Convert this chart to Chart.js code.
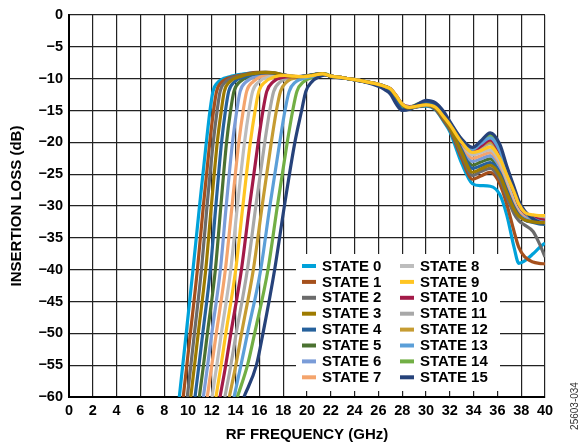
<!DOCTYPE html>
<html><head><meta charset="utf-8">
<script src="https://cdn.jsdelivr.net/npm/chart.js@4/dist/chart.umd.min.js"></script>
<style>html,body{margin:0;padding:0;background:#fff}</style>
</head><body>
<canvas id="c" width="583" height="446"></canvas>
<script>
// ---- data ----
const stateNames = ['STATE 0','STATE 1','STATE 2','STATE 3','STATE 4','STATE 5','STATE 6','STATE 7',
  'STATE 8','STATE 9','STATE 10','STATE 11','STATE 12','STATE 13','STATE 14','STATE 15'];
const stateColors = ['#00A2DA','#A5501C','#6B6B6B','#9E7B00','#26619C','#4B7231','#7A9CD8','#F4A46C',
  '#BDBDBD','#FFC522','#A31A48','#A8A8A8','#C69C32','#5B9FD8','#72AF45','#26427A'];

// rising skirt: loss levels (dB) and frequency (GHz) where each state crosses them
const riseLoss = [-60, -55, -50, -40, -30, -20, -15, -12, -10.5];
const riseFreq = [
  [9.27, 9.56, 9.85, 10.42, 10.97, 11.54, 11.85, 12.1, 12.55],
  [9.6, 9.9, 10.2, 10.79, 11.29, 11.83, 12.15, 12.4, 12.85],
  [9.94, 10.24, 10.54, 11.13, 11.6, 12.12, 12.45, 12.7, 13.15],
  [10.23, 10.55, 10.86, 11.49, 11.96, 12.46, 12.8, 13.05, 13.5],
  [10.59, 10.92, 11.24, 11.88, 12.34, 12.82, 13.15, 13.42, 13.9],
  [10.95, 11.3, 11.63, 12.3, 12.76, 13.24, 13.58, 13.86, 14.35],
  [11.29, 11.65, 12.0, 12.72, 13.21, 13.74, 14.1, 14.38, 14.88],
  [11.62, 12.0, 12.38, 13.14, 13.7, 14.27, 14.64, 14.93, 15.45],
  [12.02, 12.42, 12.8, 13.59, 14.15, 14.75, 15.13, 15.43, 15.95],
  [12.35, 12.78, 13.18, 14.01, 14.61, 15.24, 15.64, 15.95, 16.5],
  [12.69, 13.17, 13.6, 14.49, 15.17, 15.9, 16.3, 16.62, 17.15],
  [13.1, 13.6, 14.05, 14.99, 15.7, 16.45, 16.87, 17.2, 17.75],
  [13.47, 14.02, 14.5, 15.49, 16.23, 17.0, 17.43, 17.77, 18.3],
  [13.87, 14.45, 15.0, 16.11, 16.88, 17.71, 18.15, 18.5, 19.05],
  [14.15, 15.0, 15.6, 16.72, 17.51, 18.34, 18.8, 19.15, 19.7],
  [14.7, 15.75, 16.3, 17.28, 18.1, 18.98, 19.55, 19.9, 20.4]
];

// passband top, per state
const topFreq = [
  [13.5, 14.5, 15.5, 16.5, 17.5, 18.5, 19.5, 20.5, 21.3],
  [13.8, 14.8, 15.8, 16.8, 17.8, 18.8, 19.8, 20.6, 21.3],
  [14.1, 15.1, 16.0, 17.0, 18.0, 19.0, 20.0, 21.3],
  [14.5, 15.5, 16.5, 17.3, 18.2, 19.0, 20.0, 21.3],
  [14.9, 15.8, 16.7, 17.5, 18.3, 19.2, 20.1, 21.3],
  [15.3, 16.2, 17.0, 17.8, 18.6, 19.4, 20.3, 21.3],
  [15.8, 16.7, 17.5, 18.3, 19.2, 20.2, 21.3],
  [16.3, 17.2, 18.0, 18.8, 19.6, 20.4, 21.3],
  [16.8, 17.6, 18.4, 19.2, 20.2, 21.3],
  [17.3, 18.1, 18.9, 19.7, 20.5, 21.3],
  [17.9, 18.7, 19.5, 20.4, 21.3],
  [18.5, 19.3, 20.2, 21.3],
  [19.0, 19.8, 20.6, 21.3],
  [19.8, 20.6, 21.4],
  [20.4, 21.1, 21.6],
  [21.0, 21.6]
];
const topLoss = [
  [-9.7, -9.3, -9.1, -9.0, -9.3, -9.6, -9.7, -9.4, -9.2],
  [-9.7, -9.3, -9.0, -9.0, -9.4, -9.7, -9.6, -9.35, -9.2],
  [-9.7, -9.3, -9.1, -9.1, -9.4, -9.7, -9.6, -9.2],
  [-9.6, -9.2, -9.0, -9.1, -9.5, -9.7, -9.6, -9.2],
  [-9.6, -9.2, -9.1, -9.2, -9.5, -9.7, -9.5, -9.2],
  [-9.6, -9.2, -9.2, -9.4, -9.6, -9.7, -9.5, -9.2],
  [-9.6, -9.3, -9.3, -9.5, -9.7, -9.5, -9.2],
  [-9.6, -9.4, -9.4, -9.6, -9.7, -9.5, -9.2],
  [-9.7, -9.5, -9.6, -9.7, -9.6, -9.25],
  [-9.7, -9.5, -9.6, -9.7, -9.5, -9.25],
  [-9.8, -9.7, -9.7, -9.5, -9.3],
  [-9.9, -9.8, -9.6, -9.3],
  [-9.9, -9.8, -9.5, -9.3],
  [-9.9, -9.6, -9.3],
  [-9.8, -9.5, -9.3],
  [-9.7, -9.4]
];

// upper band, shared frequency grid
const tailFreq = [22, 23, 24, 25, 26, 26.5, 27, 27.5, 28, 28.6, 29.3, 30, 30.8, 31.5, 32, 33, 33.9, 34.6, 35.4, 36.2, 36.8, 37.4, 37.8, 38.3, 39, 39.5, 40];
const tailLoss = [
  [-9.6,-9.85,-10.15,-10.5,-10.9,-11.2,-11.7,-12.9,-14.2,-14.6,-14.4,-14.3,-14.9,-16.8,-18.3,-23.3,-26.5,-26.8,-26.9,-28.2,-31.5,-36.5,-39.0,-38.6,-37.5,-36.6,-35.8],
  [-9.6,-9.85,-10.15,-10.5,-10.9,-11.2,-11.7,-12.8,-14.1,-14.6,-14.4,-14.2,-14.8,-16.6,-18.0,-22.5,-25.8,-25.3,-24.7,-26.5,-29.8,-34.0,-36.5,-38.0,-38.8,-39.0,-39.1],
  [-9.6,-9.85,-10.15,-10.5,-10.9,-11.2,-11.7,-12.8,-14.1,-14.6,-14.4,-14.2,-14.7,-16.4,-17.8,-22.0,-25.2,-24.6,-24.1,-25.8,-28.6,-31.2,-32.3,-33.0,-34.0,-35.8,-38.0],
  [-9.6,-9.85,-10.15,-10.5,-10.9,-11.2,-11.6,-12.8,-14.1,-14.6,-14.3,-14.1,-14.6,-16.2,-17.6,-21.6,-24.7,-24.2,-23.6,-25.2,-28.0,-30.5,-31.6,-32.2,-32.5,-32.6,-32.6],
  [-9.65,-9.9,-10.2,-10.55,-11.0,-11.5,-12.1,-13.5,-14.8,-14.8,-14.2,-13.7,-14.1,-15.8,-17.3,-21.2,-24.1,-23.7,-23.2,-24.8,-27.6,-30.2,-31.4,-32.2,-32.6,-32.8,-32.9],
  [-9.6,-9.85,-10.15,-10.5,-10.95,-11.3,-11.8,-13.0,-14.3,-14.5,-14.1,-13.9,-14.3,-15.9,-17.4,-21.0,-23.6,-23.1,-22.6,-24.4,-27.2,-29.9,-31.2,-32.0,-32.4,-32.6,-32.7],
  [-9.6,-9.85,-10.15,-10.5,-10.9,-11.2,-11.6,-12.8,-14.1,-14.6,-14.3,-14.1,-14.5,-16.0,-17.4,-20.7,-23.0,-22.6,-22.1,-23.9,-26.7,-29.5,-30.9,-31.7,-32.1,-32.3,-32.4],
  [-9.6,-9.85,-10.15,-10.5,-10.9,-11.2,-11.6,-12.7,-14.0,-14.5,-14.3,-14.1,-14.5,-16.0,-17.3,-20.4,-22.5,-22.1,-21.6,-23.4,-26.2,-29.0,-30.6,-31.4,-31.8,-32.0,-32.1],
  [-9.6,-9.85,-10.15,-10.5,-10.9,-11.2,-11.6,-12.7,-14.0,-14.5,-14.3,-14.1,-14.5,-16.0,-17.3,-20.2,-22.0,-21.6,-21.2,-23.0,-25.8,-28.6,-30.3,-31.2,-31.6,-31.8,-31.9],
  [-9.6,-9.85,-10.15,-10.5,-10.9,-11.2,-11.6,-12.7,-14.0,-14.5,-14.3,-14.1,-14.5,-16.0,-17.2,-20.0,-21.6,-21.3,-20.7,-22.5,-25.2,-27.8,-29.7,-31.0,-31.4,-31.5,-31.5],
  [-9.6,-9.85,-10.15,-10.5,-10.9,-11.2,-11.6,-12.7,-14.0,-14.4,-14.2,-13.9,-14.3,-15.9,-17.3,-20.1,-21.4,-20.6,-19.6,-21.6,-24.8,-27.8,-29.8,-31.1,-31.8,-32.1,-32.2],
  [-9.6,-9.85,-10.15,-10.5,-10.9,-11.2,-11.6,-12.7,-14.0,-14.4,-14.2,-14.0,-14.4,-15.9,-17.2,-20.0,-21.5,-20.9,-20.2,-22.1,-25.0,-27.9,-29.8,-31.0,-31.6,-31.8,-31.9],
  [-9.6,-9.85,-10.15,-10.5,-10.95,-11.3,-11.8,-13.0,-14.3,-14.5,-14.1,-13.8,-14.2,-15.7,-17.1,-19.9,-21.3,-20.6,-19.9,-21.8,-24.8,-27.8,-29.8,-31.1,-31.9,-32.2,-32.4],
  [-9.6,-9.85,-10.15,-10.5,-10.9,-11.2,-11.6,-12.8,-14.1,-14.5,-14.2,-13.9,-14.3,-15.7,-17.0,-19.8,-21.1,-20.2,-19.3,-21.3,-24.4,-27.5,-29.6,-31.0,-32.0,-32.4,-32.6],
  [-9.6,-9.85,-10.15,-10.5,-10.95,-11.3,-11.8,-13.1,-14.4,-14.5,-14.0,-13.6,-14.0,-15.5,-16.9,-19.6,-21.0,-20.0,-18.9,-20.9,-24.1,-27.3,-29.4,-30.9,-32.1,-32.6,-32.9],
  [-9.7,-9.9,-10.2,-10.6,-11.2,-11.7,-12.4,-14.0,-15.0,-14.8,-14.0,-13.4,-13.8,-15.2,-16.7,-19.5,-20.8,-19.8,-18.5,-20.3,-23.8,-27.0,-29.2,-30.8,-32.0,-32.5,-32.8]
];

const xTicks = {min: 0, max: 40, step: 2};
const yTicks = {min: -60, max: 0, step: 5};

// ---- build datasets ----
const FONT = "'Liberation Sans', Arial, Helvetica, sans-serif";
const drawOrder = [9,3,15,4,13,10,14,12,11,8,7,6,5,2,1,0];
const datasets = stateNames.map((name, i) => {
  const pts = [];
  riseFreq[i].forEach((f, j) => pts.push({x: f, y: riseLoss[j]}));
  topFreq[i].forEach((f, j) => pts.push({x: f, y: topLoss[i][j]}));
  tailFreq.forEach((f, j) => pts.push({x: f, y: tailLoss[i][j]}));
  return {
    label: name, data: pts, borderColor: stateColors[i], backgroundColor: stateColors[i],
    borderWidth: 3.2, pointRadius: 0, fill: false, cubicInterpolationMode: 'monotone',
    order: drawOrder.indexOf(i)
  };
});

const overlay = {
  id: 'overlay',
  afterDatasetsDraw(chart) {
    const c = chart.ctx;
    c.save();
    c.fillStyle = '#fff';
    c.fillRect(296, 254, 204, 137);
    c.font = 'bold 15px ' + FONT;
    c.textBaseline = 'middle';
    c.textAlign = 'left';
    stateNames.forEach((name, i) => {
      const col = Math.floor(i / 8), row = i % 8;
      const y = 266 + row * 15.9;
      const sx = col ? 400 : 302;
      c.strokeStyle = stateColors[i];
      c.lineWidth = 4;
      c.beginPath(); c.moveTo(sx, y); c.lineTo(sx + 14, y); c.stroke();
      c.fillStyle = '#000';
      c.fillText(name, sx + 20, y + 0.5);
    });
    c.translate(575, 406);
    c.rotate(-Math.PI / 2);
    c.font = '10px ' + FONT;
    c.fillStyle = '#333';
    c.textAlign = 'center';
    c.fillText('25603-034', 0, 0);
    c.restore();
  }
};

new Chart(document.getElementById('c'), {
  type: 'line',
  data: {datasets},
  plugins: [overlay],
  options: {
    responsive: false, animation: false, devicePixelRatio: 1,
    layout: {padding: {left: 0, top: 15, right: 38, bottom: 0}},
    plugins: {legend: {display: false}, tooltip: {enabled: false}},
    scales: {
      x: {
        type: 'linear', min: xTicks.min, max: xTicks.max,
        afterFit: s => { s.height = 49; },
        ticks: {stepSize: xTicks.step, autoSkip: false, maxRotation: 0, padding: 5, color: '#000',
          font: {family: FONT, size: 14.5, weight: 'bold'}},
        grid: {color: '#222', lineWidth: 1.2, drawTicks: false},
        border: {color: '#000', width: 2},
        title: {display: true, text: 'RF FREQUENCY (GHz)', color: '#000', padding: {top: 0, bottom: 2},
          font: {family: FONT, size: 15, weight: 'bold'}}
      },
      y: {
        type: 'linear', min: yTicks.min, max: yTicks.max,
        afterFit: s => { s.width = 69; },
        ticks: {stepSize: yTicks.step, padding: 6, color: '#000',
          callback: v => v === 0 ? '0' : '\u2212' + Math.abs(v),
          font: {family: FONT, size: 14.5, weight: 'bold'}},
        grid: {color: '#222', lineWidth: 1.2, drawTicks: false},
        border: {color: '#000', width: 2},
        title: {display: true, text: 'INSERTION LOSS (dB)', color: '#000', padding: {top: 8, bottom: 0},
          font: {family: FONT, size: 15, weight: 'bold'}}
      }
    }
  }
});
</script>
</body></html>
